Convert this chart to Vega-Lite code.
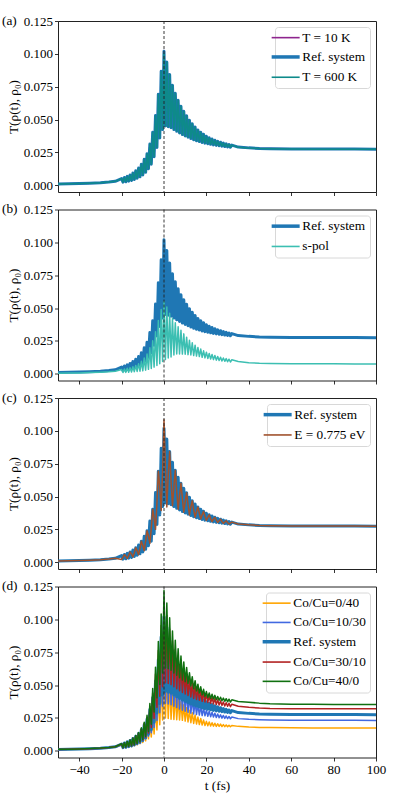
{
"$schema": "https://vega.github.io/schema/vega-lite/v6.json",
"padding": {"left": 1, "top": 13, "right": 2, "bottom": 2},
"background": "white",
"datasets": {"d": [
{"t":-50,"ref":0.0009,"t10":0.0009,"t600":0.0009,"sp":0.0004,"e":0.0009,"o":0.0008,"rb":0.0009,"r":0.0009,"g":0.0010},
{"t":-45,"ref":0.0010,"t10":0.0010,"t600":0.0010,"sp":0.0005,"e":0.0010,"o":0.0009,"rb":0.0010,"r":0.0010,"g":0.0011},
{"t":-40,"ref":0.0012,"t10":0.0012,"t600":0.0012,"sp":0.0006,"e":0.0012,"o":0.0011,"rb":0.0012,"r":0.0012,"g":0.0013},
{"t":-35,"ref":0.0015,"t10":0.0015,"t600":0.0015,"sp":0.0008,"e":0.0015,"o":0.0014,"rb":0.0015,"r":0.0015,"g":0.0016},
{"t":-30,"ref":0.0019,"t10":0.0019,"t600":0.0019,"sp":0.0011,"e":0.0019,"o":0.0017,"rb":0.0018,"r":0.0019,"g":0.0020},
{"t":-26,"ref":0.0024,"t10":0.0024,"t600":0.0024,"sp":0.0014,"e":0.0024,"o":0.0022,"rb":0.0023,"r":0.0024,"g":0.0025},
{"t":-23,"ref":0.0029,"t10":0.0029,"t600":0.0029,"sp":0.0018,"e":0.0029,"o":0.0026,"rb":0.0028,"r":0.0030,"g":0.0030},
{"t":-20,"ref":0.0050,"t10":0.0050,"t600":0.0050,"sp":0.0032,"e":0.0021,"o":0.0045,"rb":0.0049,"r":0.0051,"g":0.0053},
{"t":-19.33,"ref":0.0023,"t10":0.0023,"t600":0.0023,"sp":0.0009,"e":0.0039,"o":0.0021,"rb":0.0022,"r":0.0023,"g":0.0024},
{"t":-18.67,"ref":0.0058,"t10":0.0058,"t600":0.0058,"sp":0.0036,"e":0.0058,"o":0.0052,"rb":0.0056,"r":0.0059,"g":0.0061},
{"t":-18,"ref":0.0026,"t10":0.0026,"t600":0.0026,"sp":0.0010,"e":0.0044,"o":0.0023,"rb":0.0025,"r":0.0027,"g":0.0027},
{"t":-17.33,"ref":0.0067,"t10":0.0067,"t600":0.0067,"sp":0.0041,"e":0.0028,"o":0.0060,"rb":0.0065,"r":0.0068,"g":0.0070},
{"t":-16.67,"ref":0.0031,"t10":0.0031,"t600":0.0031,"sp":0.0011,"e":0.0052,"o":0.0028,"rb":0.0030,"r":0.0032,"g":0.0033},
{"t":-16,"ref":0.0078,"t10":0.0078,"t600":0.0078,"sp":0.0046,"e":0.0078,"o":0.0070,"rb":0.0076,"r":0.0080,"g":0.0082},
{"t":-15.33,"ref":0.0036,"t10":0.0036,"t600":0.0036,"sp":0.0013,"e":0.0061,"o":0.0032,"rb":0.0035,"r":0.0037,"g":0.0038},
{"t":-14.67,"ref":0.0092,"t10":0.0092,"t600":0.0092,"sp":0.0053,"e":0.0040,"o":0.0083,"rb":0.0089,"r":0.0094,"g":0.0097},
{"t":-14,"ref":0.0043,"t10":0.0043,"t600":0.0043,"sp":0.0015,"e":0.0072,"o":0.0039,"rb":0.0042,"r":0.0044,"g":0.0045},
{"t":-13.33,"ref":0.0110,"t10":0.0110,"t600":0.0110,"sp":0.0062,"e":0.0110,"o":0.0097,"rb":0.0106,"r":0.0113,"g":0.0116},
{"t":-12.67,"ref":0.0052,"t10":0.0052,"t600":0.0052,"sp":0.0017,"e":0.0086,"o":0.0045,"rb":0.0050,"r":0.0054,"g":0.0055},
{"t":-12,"ref":0.0130,"t10":0.0130,"t600":0.0130,"sp":0.0075,"e":0.0057,"o":0.0111,"rb":0.0123,"r":0.0134,"g":0.0139},
{"t":-11.33,"ref":0.0064,"t10":0.0064,"t600":0.0064,"sp":0.0019,"e":0.0105,"o":0.0053,"rb":0.0060,"r":0.0066,"g":0.0069},
{"t":-10.67,"ref":0.0160,"t10":0.0160,"t600":0.0160,"sp":0.0095,"e":0.0160,"o":0.0131,"rb":0.0149,"r":0.0167,"g":0.0174},
{"t":-10,"ref":0.0078,"t10":0.0078,"t600":0.0078,"sp":0.0022,"e":0.0127,"o":0.0062,"rb":0.0072,"r":0.0082,"g":0.0086},
{"t":-9.33,"ref":0.0197,"t10":0.0197,"t600":0.0197,"sp":0.0120,"e":0.0088,"o":0.0154,"rb":0.0180,"r":0.0207,"g":0.0217},
{"t":-8.67,"ref":0.0098,"t10":0.0098,"t600":0.0098,"sp":0.0027,"e":0.0158,"o":0.0075,"rb":0.0089,"r":0.0103,"g":0.0109},
{"t":-8,"ref":0.0240,"t10":0.0240,"t600":0.0240,"sp":0.0150,"e":0.0240,"o":0.0180,"rb":0.0216,"r":0.0254,"g":0.0269},
{"t":-7.33,"ref":0.0125,"t10":0.0125,"t600":0.0125,"sp":0.0033,"e":0.0201,"o":0.0090,"rb":0.0110,"r":0.0134,"g":0.0146},
{"t":-6.67,"ref":0.0313,"t10":0.0313,"t600":0.0313,"sp":0.0197,"e":0.0143,"o":0.0221,"rb":0.0276,"r":0.0336,"g":0.0359},
{"t":-6,"ref":0.0160,"t10":0.0160,"t600":0.0160,"sp":0.0040,"e":0.0255,"o":0.0104,"rb":0.0136,"r":0.0177,"g":0.0202},
{"t":-5.33,"ref":0.0403,"t10":0.0403,"t600":0.0403,"sp":0.0250,"e":0.0403,"o":0.0267,"rb":0.0349,"r":0.0438,"g":0.0473},
{"t":-4.67,"ref":0.0217,"t10":0.0217,"t600":0.0217,"sp":0.0050,"e":0.0340,"o":0.0127,"rb":0.0177,"r":0.0246,"g":0.0294},
{"t":-4,"ref":0.0530,"t10":0.0530,"t600":0.0530,"sp":0.0320,"e":0.0250,"o":0.0329,"rb":0.0451,"r":0.0583,"g":0.0636},
{"t":-3.33,"ref":0.0287,"t10":0.0287,"t600":0.0287,"sp":0.0062,"e":0.0449,"o":0.0158,"rb":0.0230,"r":0.0330,"g":0.0402},
{"t":-2.67,"ref":0.0693,"t10":0.0693,"t600":0.0693,"sp":0.0405,"e":0.0693,"o":0.0430,"rb":0.0589,"r":0.0762,"g":0.0832},
{"t":-2,"ref":0.0360,"t10":0.0360,"t600":0.0360,"sp":0.0075,"e":0.0570,"o":0.0198,"rb":0.0288,"r":0.0414,"g":0.0504},
{"t":-1.33,"ref":0.0867,"t10":0.0867,"t600":0.0867,"sp":0.0488,"e":0.0393,"o":0.0538,"rb":0.0737,"r":0.0954,"g":0.1040},
{"t":-0.67,"ref":0.0423,"t10":0.0423,"t600":0.0423,"sp":0.0092,"e":0.0685,"o":0.0233,"rb":0.0338,"r":0.0486,"g":0.0592},
{"t":0,"ref":0.1020,"t10":0.1025,"t600":0.1000,"sp":0.0550,"e":0.1085,"o":0.0632,"rb":0.0867,"r":0.1122,"g":0.1220},
{"t":0.67,"ref":0.0450,"t10":0.0450,"t600":0.0450,"sp":0.0107,"e":0.0715,"o":0.0248,"rb":0.0360,"r":0.0518,"g":0.0630},
{"t":1.33,"ref":0.0937,"t10":0.0937,"t600":0.0937,"sp":0.0507,"e":0.0420,"o":0.0581,"rb":0.0796,"r":0.1031,"g":0.1124},
{"t":2,"ref":0.0445,"t10":0.0445,"t600":0.0445,"sp":0.0120,"e":0.0668,"o":0.0245,"rb":0.0356,"r":0.0512,"g":0.0623},
{"t":2.67,"ref":0.0843,"t10":0.0843,"t600":0.0843,"sp":0.0460,"e":0.0843,"o":0.0523,"rb":0.0717,"r":0.0927,"g":0.1012},
{"t":3.33,"ref":0.0437,"t10":0.0437,"t600":0.0437,"sp":0.0127,"e":0.0619,"o":0.0240,"rb":0.0350,"r":0.0503,"g":0.0612},
{"t":4,"ref":0.0760,"t10":0.0760,"t600":0.0760,"sp":0.0420,"e":0.0430,"o":0.0471,"rb":0.0646,"r":0.0836,"g":0.0912},
{"t":4.67,"ref":0.0423,"t10":0.0423,"t600":0.0423,"sp":0.0143,"e":0.0577,"o":0.0237,"rb":0.0338,"r":0.0486,"g":0.0592},
{"t":5.33,"ref":0.0700,"t10":0.0700,"t600":0.0700,"sp":0.0387,"e":0.0700,"o":0.0434,"rb":0.0595,"r":0.0770,"g":0.0840},
{"t":6,"ref":0.0410,"t10":0.0410,"t600":0.0410,"sp":0.0150,"e":0.0540,"o":0.0236,"rb":0.0328,"r":0.0472,"g":0.0574},
{"t":6.67,"ref":0.0647,"t10":0.0647,"t600":0.0647,"sp":0.0357,"e":0.0403,"o":0.0401,"rb":0.0550,"r":0.0712,"g":0.0776},
{"t":7.33,"ref":0.0397,"t10":0.0397,"t600":0.0397,"sp":0.0150,"e":0.0510,"o":0.0234,"rb":0.0318,"r":0.0457,"g":0.0556},
{"t":8,"ref":0.0600,"t10":0.0600,"t600":0.0600,"sp":0.0330,"e":0.0600,"o":0.0372,"rb":0.0510,"r":0.0660,"g":0.0720},
{"t":8.67,"ref":0.0385,"t10":0.0385,"t600":0.0385,"sp":0.0149,"e":0.0484,"o":0.0231,"rb":0.0308,"r":0.0443,"g":0.0539},
{"t":9.33,"ref":0.0563,"t10":0.0563,"t600":0.0563,"sp":0.0303,"e":0.0380,"o":0.0349,"rb":0.0479,"r":0.0619,"g":0.0676},
{"t":10,"ref":0.0375,"t10":0.0375,"t600":0.0375,"sp":0.0148,"e":0.0460,"o":0.0225,"rb":0.0300,"r":0.0431,"g":0.0525},
{"t":10.67,"ref":0.0528,"t10":0.0528,"t600":0.0528,"sp":0.0278,"e":0.0528,"o":0.0327,"rb":0.0449,"r":0.0581,"g":0.0634},
{"t":11.33,"ref":0.0365,"t10":0.0365,"t600":0.0365,"sp":0.0145,"e":0.0439,"o":0.0219,"rb":0.0292,"r":0.0420,"g":0.0511},
{"t":12,"ref":0.0495,"t10":0.0495,"t600":0.0495,"sp":0.0255,"e":0.0360,"o":0.0307,"rb":0.0421,"r":0.0545,"g":0.0594},
{"t":12.67,"ref":0.0355,"t10":0.0355,"t600":0.0355,"sp":0.0142,"e":0.0419,"o":0.0213,"rb":0.0285,"r":0.0409,"g":0.0493},
{"t":13.33,"ref":0.0468,"t10":0.0468,"t600":0.0468,"sp":0.0235,"e":0.0468,"o":0.0289,"rb":0.0396,"r":0.0519,"g":0.0563},
{"t":14,"ref":0.0345,"t10":0.0345,"t600":0.0345,"sp":0.0138,"e":0.0400,"o":0.0207,"rb":0.0279,"r":0.0398,"g":0.0471},
{"t":14.67,"ref":0.0443,"t10":0.0443,"t600":0.0443,"sp":0.0217,"e":0.0342,"o":0.0272,"rb":0.0373,"r":0.0496,"g":0.0533},
{"t":15.33,"ref":0.0338,"t10":0.0338,"t600":0.0338,"sp":0.0134,"e":0.0385,"o":0.0203,"rb":0.0275,"r":0.0390,"g":0.0454},
{"t":16,"ref":0.0420,"t10":0.0420,"t600":0.0420,"sp":0.0200,"e":0.0420,"o":0.0256,"rb":0.0353,"r":0.0475,"g":0.0506},
{"t":16.67,"ref":0.0332,"t10":0.0332,"t600":0.0332,"sp":0.0130,"e":0.0372,"o":0.0199,"rb":0.0271,"r":0.0384,"g":0.0439},
{"t":17.33,"ref":0.0403,"t10":0.0403,"t600":0.0403,"sp":0.0187,"e":0.0328,"o":0.0245,"rb":0.0337,"r":0.0459,"g":0.0486},
{"t":18,"ref":0.0325,"t10":0.0325,"t600":0.0325,"sp":0.0125,"e":0.0360,"o":0.0195,"rb":0.0267,"r":0.0376,"g":0.0424},
{"t":18.67,"ref":0.0387,"t10":0.0387,"t600":0.0387,"sp":0.0174,"e":0.0387,"o":0.0233,"rb":0.0322,"r":0.0445,"g":0.0467},
{"t":19.33,"ref":0.0320,"t10":0.0320,"t600":0.0320,"sp":0.0120,"e":0.0350,"o":0.0192,"rb":0.0265,"r":0.0371,"g":0.0412},
{"t":20,"ref":0.0372,"t10":0.0372,"t600":0.0372,"sp":0.0163,"e":0.0318,"o":0.0223,"rb":0.0309,"r":0.0432,"g":0.0450},
{"t":20.67,"ref":0.0316,"t10":0.0316,"t600":0.0316,"sp":0.0116,"e":0.0341,"o":0.0190,"rb":0.0262,"r":0.0367,"g":0.0404},
{"t":21.33,"ref":0.0361,"t10":0.0361,"t600":0.0361,"sp":0.0154,"e":0.0361,"o":0.0218,"rb":0.0300,"r":0.0419,"g":0.0439},
{"t":22,"ref":0.0311,"t10":0.0311,"t600":0.0311,"sp":0.0111,"e":0.0333,"o":0.0188,"rb":0.0259,"r":0.0361,"g":0.0398},
{"t":22.67,"ref":0.0351,"t10":0.0351,"t600":0.0351,"sp":0.0146,"e":0.0309,"o":0.0213,"rb":0.0292,"r":0.0407,"g":0.0429},
{"t":23.33,"ref":0.0307,"t10":0.0307,"t600":0.0307,"sp":0.0107,"e":0.0327,"o":0.0187,"rb":0.0256,"r":0.0356,"g":0.0393},
{"t":24,"ref":0.0342,"t10":0.0342,"t600":0.0342,"sp":0.0138,"e":0.0342,"o":0.0209,"rb":0.0285,"r":0.0397,"g":0.0421},
{"t":24.67,"ref":0.0303,"t10":0.0303,"t600":0.0303,"sp":0.0103,"e":0.0321,"o":0.0185,"rb":0.0253,"r":0.0351,"g":0.0388},
{"t":25.33,"ref":0.0334,"t10":0.0334,"t600":0.0334,"sp":0.0131,"e":0.0302,"o":0.0205,"rb":0.0279,"r":0.0387,"g":0.0413},
{"t":26,"ref":0.0300,"t10":0.0300,"t600":0.0300,"sp":0.0100,"e":0.0315,"o":0.0185,"rb":0.0251,"r":0.0348,"g":0.0384},
{"t":26.67,"ref":0.0327,"t10":0.0327,"t600":0.0327,"sp":0.0125,"e":0.0327,"o":0.0202,"rb":0.0273,"r":0.0379,"g":0.0407},
{"t":27.33,"ref":0.0297,"t10":0.0297,"t600":0.0297,"sp":0.0097,"e":0.0310,"o":0.0184,"rb":0.0248,"r":0.0345,"g":0.0380},
{"t":28,"ref":0.0320,"t10":0.0320,"t600":0.0320,"sp":0.0119,"e":0.0295,"o":0.0198,"rb":0.0268,"r":0.0371,"g":0.0400},
{"t":28.67,"ref":0.0294,"t10":0.0294,"t600":0.0294,"sp":0.0094,"e":0.0306,"o":0.0183,"rb":0.0246,"r":0.0341,"g":0.0376},
{"t":29.33,"ref":0.0315,"t10":0.0315,"t600":0.0315,"sp":0.0115,"e":0.0315,"o":0.0196,"rb":0.0264,"r":0.0365,"g":0.0396},
{"t":30,"ref":0.0291,"t10":0.0291,"t600":0.0291,"sp":0.0091,"e":0.0302,"o":0.0182,"rb":0.0244,"r":0.0338,"g":0.0372},
{"t":30.67,"ref":0.0310,"t10":0.0310,"t600":0.0310,"sp":0.0110,"e":0.0290,"o":0.0194,"rb":0.0260,"r":0.0360,"g":0.0392},
{"t":31.33,"ref":0.0289,"t10":0.0289,"t600":0.0289,"sp":0.0089,"e":0.0298,"o":0.0182,"rb":0.0243,"r":0.0335,"g":0.0370},
{"t":32,"ref":0.0305,"t10":0.0305,"t600":0.0305,"sp":0.0106,"e":0.0305,"o":0.0192,"rb":0.0256,"r":0.0354,"g":0.0387},
{"t":35,"ref":0.0290,"t10":0.0291,"t600":0.0289,"sp":0.0092,"e":0.0290,"o":0.0185,"rb":0.0244,"r":0.0338,"g":0.0375},
{"t":40,"ref":0.0284,"t10":0.0285,"t600":0.0283,"sp":0.0084,"e":0.0284,"o":0.0180,"rb":0.0239,"r":0.0330,"g":0.0368},
{"t":45,"ref":0.0280,"t10":0.0281,"t600":0.0279,"sp":0.0080,"e":0.0280,"o":0.0177,"rb":0.0236,"r":0.0325,"g":0.0362},
{"t":50,"ref":0.0278,"t10":0.0279,"t600":0.0277,"sp":0.0078,"e":0.0278,"o":0.0176,"rb":0.0234,"r":0.0322,"g":0.0358},
{"t":60,"ref":0.0276,"t10":0.0277,"t600":0.0275,"sp":0.0076,"e":0.0276,"o":0.0174,"rb":0.0232,"r":0.0320,"g":0.0354},
{"t":70,"ref":0.0275,"t10":0.0276,"t600":0.0274,"sp":0.0075,"e":0.0275,"o":0.0173,"rb":0.0231,"r":0.0319,"g":0.0353},
{"t":80,"ref":0.0275,"t10":0.0276,"t600":0.0274,"sp":0.0075,"e":0.0275,"o":0.0173,"rb":0.0231,"r":0.0319,"g":0.0352},
{"t":90,"ref":0.0275,"t10":0.0276,"t600":0.0274,"sp":0.0074,"e":0.0275,"o":0.0173,"rb":0.0231,"r":0.0319,"g":0.0352},
{"t":100,"ref":0.0274,"t10":0.0275,"t600":0.0273,"sp":0.0074,"e":0.0274,"o":0.0173,"rb":0.0230,"r":0.0319,"g":0.0352}
]},
"spacing": 17.5,
"bounds": "flush",
"resolve": {"scale": {"color": "independent"}, "legend": {"color": "independent"}},
"vconcat": [
{"width": 318, "height": 171, "title": "(a)",
 "layer": [
  {"data": {"name": "d"}, "transform": [{"fold": ["t10", "ref", "t600"], "as": ["key", "val"]}],
   "mark": {"type": "line", "strokeJoin": "round", "clip": true},
   "encoding": {
    "x": {"field": "t", "type": "quantitative", "scale": {"domain": [-50, 100], "nice": false, "zero": false}, "axis": {"values": [-40, -20, 0, 20, 40, 60, 80, 100], "labels": false, "title": null}},
    "y": {"field": "val", "type": "quantitative", "scale": {"domain": [-0.0052, 0.125], "nice": false, "zero": false}, "axis": {"values": [0, 0.025, 0.05, 0.075, 0.1, 0.125], "format": ".3f", "title": "T(ρ(t), ρ₀)"}},
    "color": {"field": "key", "type": "nominal", "scale": {"domain": ["t10", "ref", "t600"], "range": ["#8e248e", "#1f77b4", "#0e8a8a"]},
     "legend": {"title": null, "labelExpr": "{'t10': 'T = 10 K', 'ref': 'Ref. system', 't600': 'T = 600 K'}[datum.label]",
      "encode": {"symbols": {"update": {"strokeWidth": {"signal": "datum.value === 'ref' ? 3.5 : 1.6"}}}}}},
    "strokeWidth": {"condition": {"test": "datum.key === 'ref'", "value": 3}, "value": 1.5}
   }},
  {"data": {"values": [{"t": 0}]}, "mark": {"type": "rule", "strokeDash": [3, 2], "color": "#222", "strokeWidth": 0.9},
   "encoding": {"x": {"field": "t", "type": "quantitative"}}}
 ]},
{"width": 318, "height": 171, "title": "(b)",
 "layer": [
  {"data": {"name": "d"}, "transform": [{"fold": ["ref", "sp"], "as": ["key", "val"]}],
   "mark": {"type": "line", "strokeJoin": "round", "clip": true},
   "encoding": {
    "x": {"field": "t", "type": "quantitative", "scale": {"domain": [-50, 100], "nice": false, "zero": false}, "axis": {"values": [-40, -20, 0, 20, 40, 60, 80, 100], "labels": false, "title": null}},
    "y": {"field": "val", "type": "quantitative", "scale": {"domain": [-0.0052, 0.125], "nice": false, "zero": false}, "axis": {"values": [0, 0.025, 0.05, 0.075, 0.1, 0.125], "format": ".3f", "title": "T(ρ(t), ρ₀)"}},
    "color": {"field": "key", "type": "nominal", "scale": {"domain": ["ref", "sp"], "range": ["#1f77b4", "#3cbfb2"]},
     "legend": {"title": null, "labelExpr": "{'ref': 'Ref. system', 'sp': 's-pol'}[datum.label]",
      "encode": {"symbols": {"update": {"strokeWidth": {"signal": "datum.value === 'ref' ? 3.5 : 1.6"}}}}}},
    "strokeWidth": {"condition": {"test": "datum.key === 'ref'", "value": 3}, "value": 1.5}
   }},
  {"data": {"values": [{"t": 0}]}, "mark": {"type": "rule", "strokeDash": [3, 2], "color": "#222", "strokeWidth": 0.9},
   "encoding": {"x": {"field": "t", "type": "quantitative"}}}
 ]},
{"width": 318, "height": 171, "title": "(c)",
 "layer": [
  {"data": {"name": "d"}, "transform": [{"fold": ["ref", "e"], "as": ["key", "val"]}],
   "mark": {"type": "line", "strokeJoin": "round", "clip": true},
   "encoding": {
    "x": {"field": "t", "type": "quantitative", "scale": {"domain": [-50, 100], "nice": false, "zero": false}, "axis": {"values": [-40, -20, 0, 20, 40, 60, 80, 100], "labels": false, "title": null}},
    "y": {"field": "val", "type": "quantitative", "scale": {"domain": [-0.0052, 0.125], "nice": false, "zero": false}, "axis": {"values": [0, 0.025, 0.05, 0.075, 0.1, 0.125], "format": ".3f", "title": "T(ρ(t), ρ₀)"}},
    "color": {"field": "key", "type": "nominal", "scale": {"domain": ["ref", "e"], "range": ["#1f77b4", "#a0522d"]},
     "legend": {"title": null, "labelExpr": "{'ref': 'Ref. system', 'e': 'E = 0.775 eV'}[datum.label]",
      "encode": {"symbols": {"update": {"strokeWidth": {"signal": "datum.value === 'ref' ? 3.5 : 1.6"}}}}}},
    "strokeWidth": {"condition": {"test": "datum.key === 'ref'", "value": 3}, "value": 1.5}
   }},
  {"data": {"values": [{"t": 0}]}, "mark": {"type": "rule", "strokeDash": [3, 2], "color": "#222", "strokeWidth": 0.9},
   "encoding": {"x": {"field": "t", "type": "quantitative"}}}
 ]},
{"width": 318, "height": 171, "title": "(d)",
 "layer": [
  {"data": {"name": "d"}, "transform": [{"fold": ["o", "rb", "ref", "r", "g"], "as": ["key", "val"]}],
   "mark": {"type": "line", "strokeJoin": "round", "clip": true},
   "encoding": {
    "x": {"field": "t", "type": "quantitative", "scale": {"domain": [-50, 100], "nice": false, "zero": false}, "axis": {"values": [-40, -20, 0, 20, 40, 60, 80, 100], "title": "t (fs)"}},
    "y": {"field": "val", "type": "quantitative", "scale": {"domain": [-0.0052, 0.125], "nice": false, "zero": false}, "axis": {"values": [0, 0.025, 0.05, 0.075, 0.1, 0.125], "format": ".3f", "title": "T(ρ(t), ρ₀)"}},
    "color": {"field": "key", "type": "nominal", "scale": {"domain": ["o", "rb", "ref", "r", "g"], "range": ["#ffa500", "#4169e1", "#1f77b4", "#b22222", "#107010"]},
     "legend": {"title": null, "labelExpr": "{'o': 'Co/Cu=0/40', 'rb': 'Co/Cu=10/30', 'ref': 'Ref. system', 'r': 'Co/Cu=30/10', 'g': 'Co/Cu=40/0'}[datum.label]",
      "encode": {"symbols": {"update": {"strokeWidth": {"signal": "datum.value === 'ref' ? 3.5 : 1.6"}}}}}},
    "strokeWidth": {"condition": {"test": "datum.key === 'ref'", "value": 3}, "value": 1.5}
   }},
  {"data": {"values": [{"t": 0}]}, "mark": {"type": "rule", "strokeDash": [3, 2], "color": "#222", "strokeWidth": 0.9},
   "encoding": {"x": {"field": "t", "type": "quantitative"}}}
 ]}
],
"config": {
 "view": {"stroke": "#222", "strokeWidth": 1},
 "font": "Liberation Serif",
 "axis": {"domain": false, "grid": false, "tickColor": "#000", "tickSize": 3.5, "tickWidth": 0.8, "labelFont": "Liberation Serif", "labelFontSize": 13, "labelColor": "#000", "titleFont": "Liberation Serif", "titleFontSize": 13.3, "titleFontWeight": "normal", "titleColor": "#000", "labelPadding": 2, "labelFlush": false},
 "axisY": {"titlePadding": 3},
 "axisX": {"titlePadding": 2},
 "title": {"anchor": "start", "frame": "group", "orient": "top", "offset": 0, "dx": -56, "dy": 16, "baseline": "middle", "align": "left", "font": "Liberation Serif", "fontSize": 13.3, "fontWeight": "normal", "color": "#000"},
 "legend": {"orient": "top-right", "offset": 6, "padding": 4, "strokeColor": "#d8d8d8", "fillColor": "#ffffff", "cornerRadius": 3, "labelFont": "Liberation Serif", "labelFontSize": 13.3, "labelColor": "#000", "symbolType": "stroke", "symbolSize": 784, "labelOffset": 10, "rowPadding": 5.3}
}
}
